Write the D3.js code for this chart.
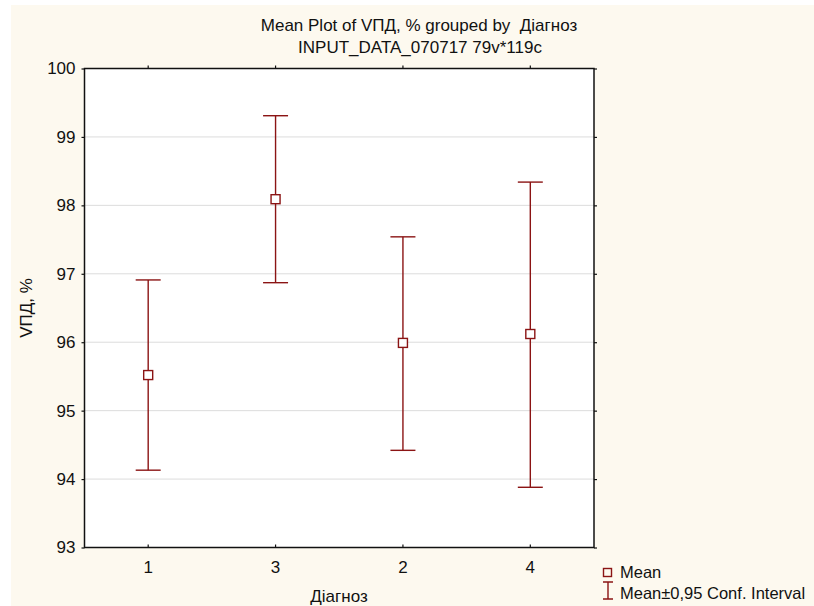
<!DOCTYPE html>
<html>
<head>
<meta charset="utf-8">
<script src="https://cdn.jsdelivr.net/npm/d3@7"></script>
<style>
  body { margin: 0; background: #ffffff; }
  text { font-family: Arial, "Liberation Sans", sans-serif; fill: #111; white-space: pre; }
</style>
</head>
<body>
<div id="chart"></div>
<script>
// groups in plot order (Діагноз)
const groups = ['1', '3', '2', '4'];
const means = [95.52, 98.09, 95.99, 96.12];
const upper = [96.91, 99.31, 97.54, 98.34];
const lower = [94.13, 96.87, 94.42, 93.88];
const yTicks = [93, 94, 95, 96, 97, 98, 99, 100];

const width = 814, height = 606;
const plot = { left: 84.5, right: 594, top: 68.5, bottom: 547.5 };
const red = '#8b1414';

const svg = d3.select('#chart')
              .append('svg')
              .attr('width', width)
              .attr('height', height);

// cream background
svg.append('rect')
   .attr('x', 11).attr('y', 5)
   .attr('width', width - 11).attr('height', height - 5)
   .attr('fill', '#fdf9ef');

svg.append('rect')
   .attr('x', plot.left).attr('y', plot.top)
   .attr('width', plot.right - plot.left).attr('height', plot.bottom - plot.top)
   .attr('fill', '#ffffff');

const xScale = d3.scaleBand()
                 .domain(groups)
                 .range([plot.left, plot.right]);
const xc = g => xScale(g) + xScale.bandwidth() / 2;

const yScale = d3.scaleLinear()
                 .domain([93, 100])
                 .range([plot.bottom, plot.top]);

// grid
svg.append('g')
   .selectAll('line')
   .data(yTicks.slice(1, -1))
   .enter()
   .append('line')
   .attr('x1', plot.left).attr('x2', plot.right)
   .attr('y1', d => yScale(d)).attr('y2', d => yScale(d))
   .attr('stroke', '#dcdcdc')
   .attr('stroke-width', 1);

// axes
const yAxis = d3.axisLeft(yScale).tickValues(yTicks).tickFormat(d3.format('d')).tickSize(3).tickSizeOuter(0).tickPadding(6);
const yAxisR = d3.axisLeft(yScale).tickValues(yTicks).tickSize(-3).tickSizeOuter(0).tickFormat('');
const xAxisT = d3.axisTop(xScale).tickSize(3).tickSizeOuter(0).tickFormat('');
const xAxisB = d3.axisTop(xScale).tickSize(3).tickSizeOuter(0).tickFormat('');

const gy = svg.append('g')
   .attr('transform', 'translate(' + plot.left + ',0)')
   .call(yAxis);
gy.selectAll('text').style('font-size', '17px').attr('fill', '#111');

svg.append('g')
   .attr('transform', 'translate(' + plot.right + ',0)')
   .call(yAxisR);

svg.append('g')
   .attr('transform', 'translate(0,' + plot.top + ')')
   .call(xAxisT);

svg.append('g')
   .attr('transform', 'translate(0,' + plot.bottom + ')')
   .call(xAxisB);

svg.selectAll('.domain').remove();
svg.selectAll('.tick line').attr('stroke', '#111').attr('stroke-width', 1.2);

// x tick labels
svg.append('g')
   .selectAll('text')
   .data(groups)
   .enter()
   .append('text')
   .attr('x', d => xc(d))
   .attr('y', 573)
   .attr('text-anchor', 'middle')
   .style('font-size', '17px')
   .text(d => d);

// frame
svg.append('rect')
   .attr('x', plot.left).attr('y', plot.top)
   .attr('width', plot.right - plot.left).attr('height', plot.bottom - plot.top)
   .attr('fill', 'none')
   .attr('stroke', '#111')
   .attr('stroke-width', 1.5);

// error bars
const capHalf = 12.5;
const bars = svg.append('g')
                .selectAll('g')
                .data(groups)
                .enter()
                .append('g');

bars.append('line')
    .attr('x1', d => xc(d)).attr('x2', d => xc(d))
    .attr('y1', (d, i) => yScale(upper[i])).attr('y2', (d, i) => yScale(lower[i]))
    .attr('stroke', red).attr('stroke-width', 1.4);
bars.append('line')
    .attr('x1', d => xc(d) - capHalf).attr('x2', d => xc(d) + capHalf)
    .attr('y1', (d, i) => yScale(upper[i])).attr('y2', (d, i) => yScale(upper[i]))
    .attr('stroke', red).attr('stroke-width', 1.4);
bars.append('line')
    .attr('x1', d => xc(d) - capHalf).attr('x2', d => xc(d) + capHalf)
    .attr('y1', (d, i) => yScale(lower[i])).attr('y2', (d, i) => yScale(lower[i]))
    .attr('stroke', red).attr('stroke-width', 1.4);
bars.append('rect')
    .attr('x', d => xc(d) - 4.5)
    .attr('y', (d, i) => yScale(means[i]) - 4.5)
    .attr('width', 9).attr('height', 9)
    .attr('fill', '#ffffff')
    .attr('stroke', red).attr('stroke-width', 1.4);

// titles
svg.append('text')
   .attr('x', 419).attr('y', 31)
   .attr('text-anchor', 'middle')
   .style('font-size', '17px')
   .text('Mean Plot of VПД, % grouped by  Діагноз');
svg.append('text')
   .attr('x', 420).attr('y', 53)
   .attr('text-anchor', 'middle')
   .style('font-size', '17px')
   .text('INPUT_DATA_070717 79v*119c');

svg.append('text')
   .attr('x', 339).attr('y', 602)
   .attr('text-anchor', 'middle')
   .style('font-size', '17px')
   .text('Діагноз');

svg.append('text')
   .attr('transform', 'translate(32,308) rotate(-90)')
   .attr('text-anchor', 'middle')
   .style('font-size', '17px')
   .text('VПД, %');

// legend
const legend = svg.append('g');
legend.append('rect')
      .attr('x', 603.5).attr('y', 568.5)
      .attr('width', 8).attr('height', 8)
      .attr('fill', 'none').attr('stroke', red).attr('stroke-width', 1.4);
legend.append('text')
      .attr('x', 620).attr('y', 578)
      .style('font-size', '16.5px')
      .text('Mean');
legend.append('path')
      .attr('d', 'M603,582H613M608,582V599M603,599H613')
      .attr('fill', 'none').attr('stroke', red).attr('stroke-width', 1.4);
legend.append('text')
      .attr('x', 620).attr('y', 599)
      .style('font-size', '16.5px')
      .text('Mean±0,95 Conf. Interval');
</script>
</body>
</html>
